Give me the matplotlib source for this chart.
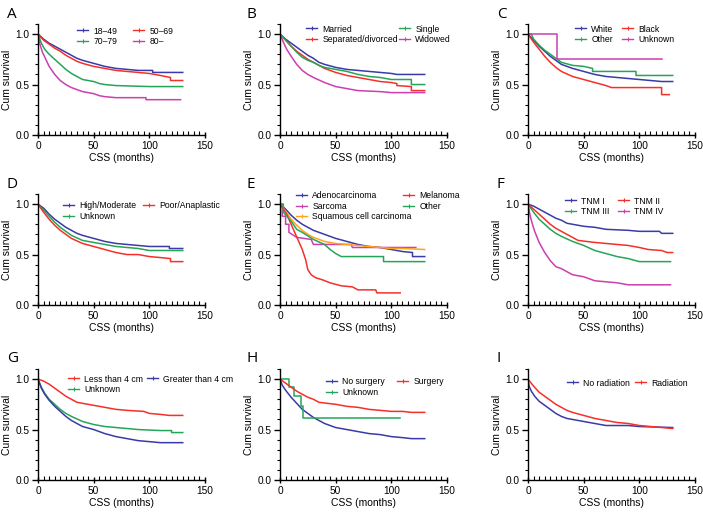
import matplotlib.pyplot as plt
from matplotlib.lines import Line2D
from matplotlib.ticker import MultipleLocator

plt.rcParams['font.family'] = ['Liberation Sans', 'DejaVu Sans']

BLUE = '#3a3aa8'
RED = '#f5302a'
GREEN = '#25a559'
MAG = '#cc3fae'
ORANGE = '#ffa31a'

# ---- data (time in months, cumulative survival) ----
# A: age
a_1849_t = [0, 5, 10, 15, 20, 25, 30, 35, 40, 50, 60, 70, 80, 90, 100, 103, 103, 130]
a_1849_s = [1.0, 0.95, 0.91, 0.88, 0.85, 0.82, 0.79, 0.76, 0.74, 0.71, 0.68, 0.66, 0.65, 0.64, 0.64, 0.64, 0.62, 0.62]
a_5069_t = [0, 5, 10, 15, 20, 25, 30, 35, 40, 50, 60, 70, 80, 90, 100, 110, 119, 119, 130]
a_5069_s = [1.0, 0.94, 0.90, 0.86, 0.83, 0.79, 0.76, 0.73, 0.71, 0.68, 0.66, 0.64, 0.63, 0.62, 0.61, 0.59, 0.57, 0.54, 0.54]
a_7079_t = [0, 3, 6, 10, 15, 20, 25, 30, 35, 40, 50, 55, 60, 70, 100, 130]
a_7079_s = [1.0, 0.91, 0.85, 0.80, 0.75, 0.70, 0.65, 0.61, 0.58, 0.55, 0.53, 0.51, 0.50, 0.49, 0.48, 0.48]
a_80_t = [0, 2, 4, 7, 10, 15, 20, 25, 30, 40, 50, 55, 60, 70, 97, 97, 128]
a_80_s = [1.0, 0.89, 0.82, 0.75, 0.68, 0.60, 0.54, 0.50, 0.47, 0.43, 0.41, 0.39, 0.38, 0.37, 0.37, 0.35, 0.35]

# B: marital status
b_mar_t = [0, 5, 10, 15, 20, 25, 30, 35, 40, 50, 60, 70, 80, 90, 100, 105, 130]
b_mar_s = [1.0, 0.95, 0.91, 0.87, 0.83, 0.79, 0.76, 0.72, 0.70, 0.67, 0.65, 0.64, 0.63, 0.62, 0.61, 0.60, 0.60]
b_sep_t = [0, 5, 10, 15, 20, 25, 30, 35, 40, 50, 60, 70, 80, 90, 100, 105, 105, 118, 118, 130]
b_sep_s = [1.0, 0.94, 0.88, 0.83, 0.79, 0.75, 0.72, 0.69, 0.66, 0.62, 0.59, 0.57, 0.55, 0.53, 0.52, 0.51, 0.49, 0.48, 0.44, 0.44]
b_sin_t = [0, 5, 10, 15, 20, 25, 30, 35, 40, 50, 60, 70, 80, 90, 100, 118, 118, 130]
b_sin_s = [1.0, 0.94, 0.88, 0.82, 0.77, 0.74, 0.72, 0.69, 0.67, 0.65, 0.63, 0.60, 0.58, 0.57, 0.55, 0.55, 0.50, 0.50]
b_wid_t = [0, 3, 6, 10, 15, 20, 25, 30, 40, 50, 60, 70, 90, 100, 130]
b_wid_s = [1.0, 0.92, 0.85, 0.78, 0.70, 0.64, 0.60, 0.57, 0.52, 0.48, 0.46, 0.44, 0.43, 0.42, 0.42]

# C: race
c_whi_t = [0, 5, 10, 15, 20, 25, 30, 40, 50, 60, 70, 80, 90, 100, 110, 120, 130]
c_whi_s = [1.0, 0.94, 0.88, 0.83, 0.78, 0.74, 0.70, 0.66, 0.63, 0.60, 0.58, 0.57, 0.56, 0.55, 0.54, 0.53, 0.53]
c_bla_t = [0, 5, 10, 15, 20, 25, 30, 40, 50, 60, 70, 75, 120, 120, 127]
c_bla_s = [1.0, 0.92, 0.85, 0.78, 0.72, 0.67, 0.63, 0.58, 0.55, 0.52, 0.49, 0.47, 0.47, 0.40, 0.40]
c_oth_t = [0, 3, 5, 10, 15, 20, 25, 30, 40, 50, 58, 58, 97, 97, 130]
c_oth_s = [1.0, 1.0, 0.95, 0.89, 0.84, 0.80, 0.76, 0.72, 0.69, 0.68, 0.66, 0.63, 0.63, 0.59, 0.59]
c_unk_t = [0, 26, 26, 120]
c_unk_s = [1.0, 1.0, 0.75, 0.75]

# D: grade
d_hig_t = [0, 5, 10, 15, 20, 25, 30, 35, 40, 50, 60, 70, 80, 90, 100, 118, 118, 130]
d_hig_s = [1.0, 0.96, 0.90, 0.85, 0.81, 0.77, 0.74, 0.71, 0.69, 0.66, 0.63, 0.61, 0.60, 0.59, 0.58, 0.58, 0.56, 0.56]
d_poo_t = [0, 5, 10, 15, 20, 25, 30, 40, 50, 60, 70, 80, 90, 100, 110, 119, 119, 130]
d_poo_s = [1.0, 0.92, 0.85, 0.79, 0.74, 0.70, 0.66, 0.61, 0.58, 0.55, 0.52, 0.50, 0.50, 0.48, 0.47, 0.46, 0.43, 0.43]
d_unk_t = [0, 5, 10, 15, 20, 25, 30, 40, 50, 60, 70, 80, 90, 100, 130]
d_unk_s = [1.0, 0.94, 0.88, 0.82, 0.77, 0.73, 0.69, 0.64, 0.62, 0.60, 0.58, 0.57, 0.56, 0.54, 0.54]

# E: histology
e_ade_t = [0, 5, 10, 15, 20, 30, 40, 50, 60, 70, 80, 90, 100, 110, 119, 119, 130]
e_ade_s = [1.0, 0.95, 0.89, 0.84, 0.80, 0.74, 0.70, 0.66, 0.63, 0.60, 0.58, 0.57, 0.55, 0.53, 0.52, 0.48, 0.48]
e_mel_t = [0, 3, 6, 8, 12, 16, 20, 23, 25, 28, 32, 38, 45, 55, 65, 70, 86, 87, 108]
e_mel_s = [1.0, 0.95, 0.90, 0.85, 0.75, 0.65, 0.55, 0.45, 0.35, 0.30, 0.27, 0.25, 0.22, 0.19, 0.18, 0.15, 0.15, 0.12, 0.12]
e_sar_t = [0, 2, 2, 5, 5, 8, 8, 15, 28, 30, 64, 65, 122]
e_sar_s = [1.0, 1.0, 0.88, 0.88, 0.80, 0.80, 0.72, 0.67, 0.65, 0.60, 0.60, 0.57, 0.57]
e_oth_t = [0, 3, 3, 10, 15, 20, 30, 40, 45, 50, 55, 93, 93, 130]
e_oth_s = [1.0, 1.0, 0.92, 0.83, 0.75, 0.72, 0.65, 0.60, 0.55, 0.51, 0.48, 0.48, 0.43, 0.43]
e_squ_t = [0, 5, 10, 15, 20, 25, 30, 40, 50, 60, 70, 80, 90, 100, 110, 130]
e_squ_s = [1.0, 0.93, 0.85, 0.79, 0.74, 0.70, 0.67, 0.63, 0.61, 0.60, 0.59, 0.58, 0.57, 0.56, 0.56, 0.55]

# F: TNM stage
f_i_t = [0, 5, 10, 15, 20, 25, 30, 35, 40, 50, 60, 70, 90, 100, 118, 120, 130]
f_i_s = [1.0, 0.98, 0.95, 0.92, 0.89, 0.86, 0.84, 0.81, 0.80, 0.78, 0.77, 0.75, 0.74, 0.73, 0.73, 0.71, 0.71]
f_ii_t = [0, 5, 10, 15, 20, 25, 30, 35, 40, 45, 60, 70, 80, 90, 100, 108, 120, 125, 130]
f_ii_s = [1.0, 0.95, 0.90, 0.85, 0.80, 0.76, 0.73, 0.70, 0.67, 0.64, 0.62, 0.61, 0.60, 0.59, 0.57, 0.55, 0.54, 0.52, 0.52]
f_iii_t = [0, 5, 10, 15, 20, 25, 30, 40, 50, 60, 70, 80, 90, 100, 128]
f_iii_s = [1.0, 0.92, 0.85, 0.80, 0.75, 0.71, 0.68, 0.63, 0.59, 0.54, 0.51, 0.48, 0.46, 0.43, 0.43]
f_iv_t = [0, 2, 4, 6, 10, 15, 20, 25, 30, 35, 40, 50, 60, 70, 80, 90, 128]
f_iv_s = [1.0, 0.88, 0.80, 0.73, 0.62, 0.52, 0.44, 0.38, 0.36, 0.33, 0.30, 0.28, 0.24, 0.23, 0.22, 0.20, 0.20]

# G: tumour size
g_les_t = [0, 5, 10, 15, 20, 25, 30, 35, 40, 50, 60, 70, 80, 95, 100, 110, 118, 130]
g_les_s = [1.0, 0.98, 0.95, 0.91, 0.87, 0.83, 0.80, 0.77, 0.76, 0.74, 0.72, 0.70, 0.69, 0.68, 0.66, 0.65, 0.64, 0.64]
g_gre_t = [0, 3, 6, 10, 15, 20, 25, 30, 40, 50, 60, 70, 80, 90, 100, 110, 130]
g_gre_s = [1.0, 0.91, 0.85, 0.79, 0.73, 0.68, 0.63, 0.59, 0.53, 0.50, 0.46, 0.43, 0.41, 0.39, 0.38, 0.37, 0.37]
g_unk_t = [0, 3, 6, 10, 15, 20, 25, 30, 40, 50, 60, 70, 80, 90, 110, 120, 120, 130]
g_unk_s = [1.0, 0.92, 0.86, 0.80, 0.75, 0.70, 0.66, 0.63, 0.58, 0.55, 0.53, 0.52, 0.51, 0.50, 0.49, 0.49, 0.47, 0.47]

# H: surgery
h_nos_t = [0, 2, 5, 10, 15, 20, 25, 30, 40, 50, 60, 70, 80, 90, 100, 110, 118, 130]
h_nos_s = [1.0, 0.94, 0.89, 0.82, 0.76, 0.70, 0.66, 0.62, 0.56, 0.52, 0.50, 0.48, 0.46, 0.45, 0.43, 0.42, 0.41, 0.41]
h_sur_t = [0, 5, 10, 15, 20, 25, 30, 35, 50, 60, 70, 80, 90, 100, 110, 118, 130]
h_sur_s = [1.0, 0.96, 0.92, 0.88, 0.85, 0.82, 0.80, 0.77, 0.75, 0.73, 0.72, 0.70, 0.69, 0.68, 0.68, 0.67, 0.67]
h_unk_t = [0, 8, 8, 13, 13, 19, 19, 21, 21, 108]
h_unk_s = [1.0, 1.0, 0.92, 0.92, 0.83, 0.83, 0.73, 0.73, 0.61, 0.61]

# I: radiation
i_nor_t = [0, 1, 3, 6, 10, 15, 20, 25, 30, 35, 40, 50, 60, 70, 90, 100, 130]
i_nor_s = [1.0, 0.93, 0.88, 0.83, 0.78, 0.74, 0.70, 0.66, 0.63, 0.61, 0.60, 0.58, 0.56, 0.54, 0.54, 0.53, 0.52]
i_rad_t = [0, 5, 10, 15, 20, 25, 30, 35, 40, 50, 60, 70, 80, 90, 100, 110, 120, 130]
i_rad_s = [1.0, 0.93, 0.87, 0.83, 0.79, 0.75, 0.72, 0.69, 0.67, 0.64, 0.61, 0.59, 0.57, 0.56, 0.54, 0.53, 0.52, 0.51]

# panels: letter, legend columns of curves (label, t, s, colour)
panels = [
    ('A', [[('18–49', a_1849_t, a_1849_s, BLUE), ('70–79', a_7079_t, a_7079_s, GREEN)],
           [('50–69', a_5069_t, a_5069_s, RED), ('80–', a_80_t, a_80_s, MAG)]]),
    ('B', [[('Married', b_mar_t, b_mar_s, BLUE), ('Separated/divorced', b_sep_t, b_sep_s, RED)],
           [('Single', b_sin_t, b_sin_s, GREEN), ('Widowed', b_wid_t, b_wid_s, MAG)]]),
    ('C', [[('White', c_whi_t, c_whi_s, BLUE), ('Other', c_oth_t, c_oth_s, GREEN)],
           [('Black', c_bla_t, c_bla_s, RED), ('Unknown', c_unk_t, c_unk_s, MAG)]]),
    ('D', [[('High/Moderate', d_hig_t, d_hig_s, BLUE), ('Unknown', d_unk_t, d_unk_s, GREEN)],
           [('Poor/Anaplastic', d_poo_t, d_poo_s, RED)]]),
    ('E', [[('Adenocarcinoma', e_ade_t, e_ade_s, BLUE), ('Sarcoma', e_sar_t, e_sar_s, MAG),
            ('Squamous cell carcinoma', e_squ_t, e_squ_s, ORANGE)],
           [('Melanoma', e_mel_t, e_mel_s, RED), ('Other', e_oth_t, e_oth_s, GREEN)]]),
    ('F', [[('TNM I', f_i_t, f_i_s, BLUE), ('TNM III', f_iii_t, f_iii_s, GREEN)],
           [('TNM II', f_ii_t, f_ii_s, RED), ('TNM IV', f_iv_t, f_iv_s, MAG)]]),
    ('G', [[('Less than 4 cm', g_les_t, g_les_s, RED), ('Unknown', g_unk_t, g_unk_s, GREEN)],
           [('Greater than 4 cm', g_gre_t, g_gre_s, BLUE)]]),
    ('H', [[('No surgery', h_nos_t, h_nos_s, BLUE), ('Unknown', h_unk_t, h_unk_s, GREEN)],
           [('Surgery', h_sur_t, h_sur_s, RED)]]),
    ('I', [[('No radiation', i_nor_t, i_nor_s, BLUE)],
           [('Radiation', i_rad_t, i_rad_s, RED)]]),
]

# legend placement in pixels: column line starts (from axis left), first row below axis top
leg_cols_px = [(39, 95), (26, 119), (47, 94), (25, 105), (16, 123),
               (37, 90), (30, 109), (46, 117), (39, 107)]
leg_row_px = [7, 5, 5, 12, 2, 7, 10, 13, 14]

W, H = 703, 515
fig = plt.figure(figsize=(W / 100, H / 100), dpi=100)

col_left = [38, 280, 528]
row_bottom = [135, 305, 480]
ax_w, ax_h = 167, 111
letter_x = [7, 247, 497]
letter_y = [14, 184, 358]

for k, (letter, columns) in enumerate(panels):
    r, c = divmod(k, 3)
    ax = fig.add_axes([col_left[c] / W, 1 - row_bottom[r] / H, ax_w / W, ax_h / H])
    for col in columns:
        for label, t, s, color in col:
            ax.plot(t, s, color=color, lw=1.1)
    ax.set_xlim(0, 150)
    ax.set_ylim(0, 1.1)
    ax.spines['top'].set_visible(False)
    ax.spines['right'].set_visible(False)
    ax.spines['left'].set_linewidth(1.0)
    ax.spines['bottom'].set_linewidth(1.0)
    ax.set_xticks([0, 50, 100, 150])
    ax.set_yticks([0.0, 0.5, 1.0])
    ax.set_yticklabels(['0.0', '0.5', '1.0'])
    ax.xaxis.set_minor_locator(MultipleLocator(5))
    ax.yaxis.set_minor_locator(MultipleLocator(0.1))
    ax.tick_params(axis='x', which='major', direction='inout', length=5, width=1.0, labelsize=7.3, pad=2)
    ax.tick_params(axis='x', which='minor', direction='in', length=3, width=0.8)
    ax.tick_params(axis='y', which='major', direction='out', length=4, width=1.0, labelsize=7.3, pad=2)
    ax.tick_params(axis='y', which='minor', direction='out', length=2.5, width=0.8)
    ax.set_xlabel('CSS (months)', fontsize=7.5)
    ax.set_ylabel('Cum survival', fontsize=7.5)
    ax.xaxis.set_label_coords(0.5, -23 / ax_h, transform=ax.transAxes)
    ax.xaxis.label.set_va('center')
    ax.yaxis.set_label_coords(-31 / ax_w, 0.5, transform=ax.transAxes)
    ax.yaxis.label.set_va('center')

    ytop = 1 - (leg_row_px[k] - 4.5) / ax_h
    for j, col in enumerate(columns):
        handles = [Line2D([], [], color=cv[3], lw=1.0, marker='|', ms=2.5, mew=0.8) for cv in col]
        leg = ax.legend(handles, [cv[0] for cv in col], loc='upper left',
                        bbox_to_anchor=(leg_cols_px[k][j] / ax_w, ytop), frameon=False,
                        fontsize=6.2, handlelength=1.3, handletextpad=0.6,
                        labelspacing=0.15, borderaxespad=0.0, borderpad=0.0)
        if j < len(columns) - 1:
            ax.add_artist(leg)
    fig.text(letter_x[c] / W, 1 - letter_y[r] / H, letter, fontsize=11,
             ha='left', va='center', family=['Open Sans', 'DejaVu Sans'])

fig.savefig('out.png', dpi=100)
